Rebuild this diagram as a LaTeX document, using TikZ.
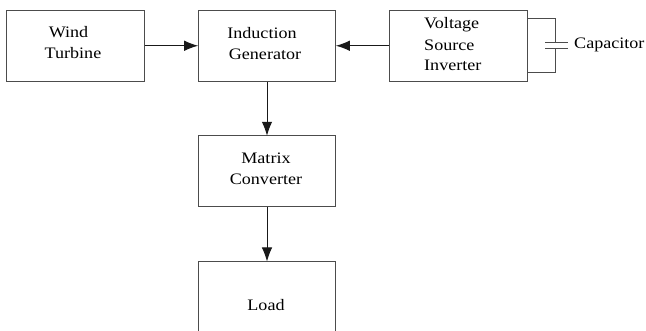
\documentclass[tikz,border=0pt]{standalone}
\usepackage{fontspec}
\setmainfont[FakeStretch=1.13]{Liberation Serif}
\usetikzlibrary{arrows.meta}
\definecolor{boxgray}{gray}{0.3}
\tikzset{
  x=1pt,y=-1pt,
  block/.style={draw=boxgray,line width=1.1pt,minimum width=137.5pt,minimum height=71pt,inner sep=0pt,anchor=north west},
  label/.style={inner sep=0pt,font=\fontsize{16pt}{16pt}\selectfont,text=black},
  flow/.style={draw=black!90,line width=1pt,-{Latex[length=14pt,width=10.5pt]},shorten >=-0.5pt},
  wire/.style={draw=boxgray,line width=1pt}
}
\begin{document}
\begin{tikzpicture}
\useasboundingbox (0,0) rectangle (646,331);
\clip (0,0) rectangle (646,331);
\node[block] (wind) at (6.2,9.7) {};
\node[block] (gen) at (197.7,9.7) {};
\node[block] (vsi) at (389.2,9.7) {};
\node[block] (mat) at (197.7,135.3) {};
\node[block,minimum height=88pt] (load) at (197.7,261) {};
\node[label] (t1) at (68.5,32) {Wind};
\node[label] (t2) at (73,53.5) {Turbine};
\node[label] (t3) at (262,33) {Induction};
\node[label] (t4) at (265,54) {Generator};
\node[label,anchor=west] (t5) at (424,25) {Voltage};
\node[label,anchor=west] (t6) at (424,45) {Source};
\node[label,anchor=west] (t7) at (424,65) {Inverter};
\node[label] (t8) at (266,158) {Matrix};
\node[label] (t9) at (266,179) {Converter};
\node[label] (t10) at (266,305) {Load};
\node[label,anchor=west] (cap) at (574,45) {Capacitor};
\draw[flow] (wind.east) -- (gen.west);
\draw[flow] (vsi.west) -- (gen.east);
\draw[flow] (gen.south) -- (mat.north);
\draw[flow] (mat.south) -- (load.north);
\coordinate (pt) at (555.7,42.5);
\coordinate (pb) at (555.7,49);
\coordinate (ct) at (555.7,18.3);
\coordinate (cb) at (555.7,72.3);
\coordinate (vt) at (vsi.east |- ct);
\coordinate (vb) at (vsi.east |- cb);
\draw[wire] (vt) -- (ct) -- (pt);
\draw[wire] (vb) -- (cb) -- (pb);
\draw[wire] (545,42.5) -- (567.7,42.5);
\draw[wire] (545,49) -- (567.7,49);
\end{tikzpicture}
\end{document}
